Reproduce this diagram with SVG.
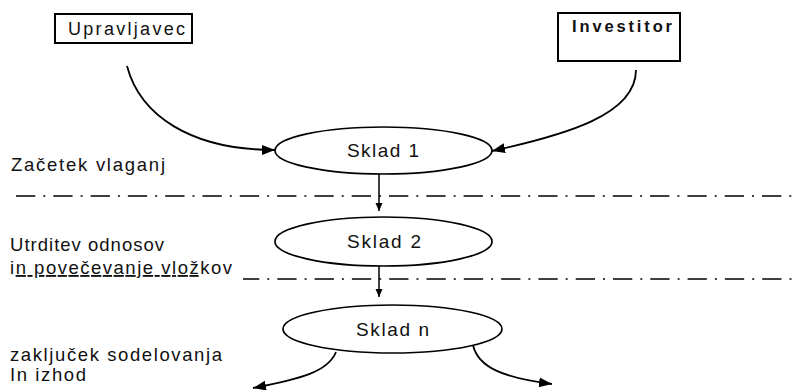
<svg xmlns="http://www.w3.org/2000/svg" width="793" height="390" viewBox="0 0 793 390">
  <style>
    text { font-family: "Liberation Sans", Arial, sans-serif; fill: #111; }
    .lbl { font-size: 18.5px; }
    .box { fill: #fff; stroke: #000; stroke-width: 2; }
    .fund { fill: #fff; stroke: #000; stroke-width: 1.7; }
    .flow { fill: none; stroke: #000; stroke-width: 1.8; }
    .step { fill: none; stroke: #000; stroke-width: 1.5; }
    .phase { fill: none; stroke: #000; stroke-width: 1.6; stroke-dasharray: 19.3 8 2 8; }
  </style>
  <defs>
    <marker id="head" markerUnits="userSpaceOnUse" markerWidth="14" markerHeight="12" refX="13" refY="5" orient="auto">
      <path d="M0,0 L13,5 L0,10 z" fill="#000"/>
    </marker>
    <marker id="head-sm" markerUnits="userSpaceOnUse" markerWidth="10" markerHeight="8" refX="8" refY="3.5" orient="auto">
      <path d="M0,0 L8,3.5 L0,7 z" fill="#000"/>
    </marker>
  </defs>

  <!-- phase separators -->
  <g id="phases">
    <line class="phase" x1="16" y1="196" x2="793" y2="196"/>
    <line class="phase" x1="243" y1="279" x2="793" y2="279" stroke-dashoffset="3"/>
  </g>

  <!-- phase labels -->
  <g id="phase-labels">
    <text class="lbl" x="11" y="171" textLength="154" lengthAdjust="spacing">Začetek vlaganj</text>
    <text class="lbl" x="10" y="251" textLength="154" lengthAdjust="spacing">Utrditev odnosov</text>
    <text class="lbl" x="10" y="274" textLength="222" lengthAdjust="spacing">i<tspan text-decoration="underline">n povečevanje vlož</tspan>kov</text>
    <text class="lbl" x="10" y="361" textLength="212" lengthAdjust="spacing">zaključek sodelovanja</text>
    <text class="lbl" x="10" y="381" textLength="76" lengthAdjust="spacing">In izhod</text>
  </g>

  <!-- connectors -->
  <g id="connectors">
    <path class="flow" d="M127,66 C140,115 190,150 275,150" marker-end="url(#head)"/>
    <path class="flow" d="M636,70 C636,115 565,135 492,151" marker-end="url(#head)"/>
    <line class="step" x1="379" y1="174" x2="379" y2="211" marker-end="url(#head-sm)"/>
    <line class="step" x1="379" y1="266" x2="379" y2="297" marker-end="url(#head-sm)"/>
    <path class="flow" d="M336,352 C328,372 300,379 253,388" marker-end="url(#head)"/>
    <path class="flow" d="M473,345 C478,368 505,378 552,384" marker-end="url(#head)"/>
  </g>

  <g id="upravljavec">
    <rect class="box" x="55" y="14" width="137" height="29"/>
    <text x="68" y="35" font-size="18" textLength="117" lengthAdjust="spacing">Upravljavec</text>
  </g>

  <g id="investitor">
    <rect class="box" x="558" y="13" width="122" height="48"/>
    <text x="572" y="32" font-size="16.5" font-weight="bold" textLength="100" lengthAdjust="spacing">Investitor</text>
  </g>

  <g id="sklad-1">
    <ellipse class="fund" cx="383.5" cy="150.5" rx="108.5" ry="23.5"/>
    <text x="347" y="157" font-size="19" textLength="72" lengthAdjust="spacing">Sklad 1</text>
  </g>

  <g id="sklad-2">
    <ellipse class="fund" cx="383.5" cy="241.5" rx="108.5" ry="24.5"/>
    <text x="347" y="248" font-size="19" textLength="74" lengthAdjust="spacing">Sklad 2</text>
  </g>

  <g id="sklad-n">
    <ellipse class="fund" cx="392.5" cy="329" rx="109.5" ry="24"/>
    <text x="356" y="336" font-size="19" textLength="73" lengthAdjust="spacing">Sklad n</text>
  </g>
</svg>
